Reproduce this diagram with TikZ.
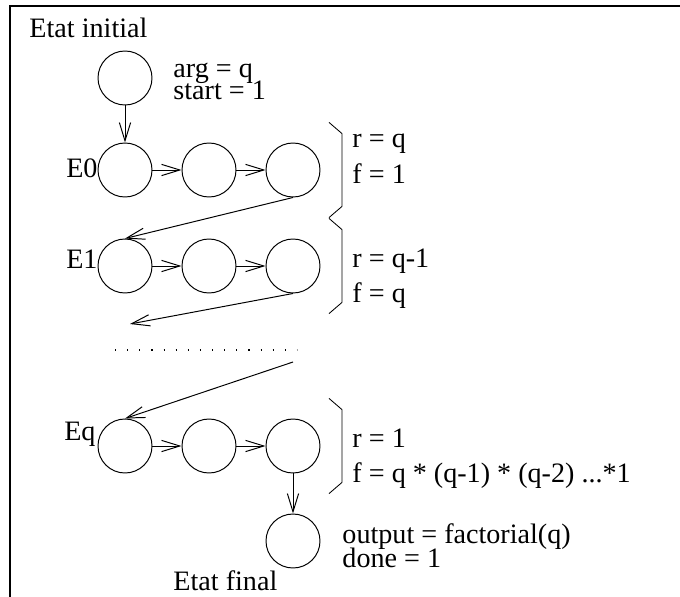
\documentclass[tikz,border=0pt]{standalone}
\usepackage{fontspec}
\setmainfont{Liberation Serif}
\usetikzlibrary{arrows.meta}
\begin{document}
\begin{tikzpicture}[line width=0.7pt,
    st/.style={circle,draw,minimum size=1.35cm,inner sep=0pt},
    arr/.style={-{Straight Barb[length=13pt,width=8pt]}},
    lbl/.style={inner sep=0pt,font=\fontsize{20}{24}\selectfont},
    brk/.style={line width=0.6pt}
  ]
  \useasboundingbox (0,0) rectangle (17,-14.925);
  \draw[line width=1.4pt] (17,-0.15) -- (0.25,-0.15) -- (0.25,-14.925);

  % initial state
  \node[st] (init) at (3.125,-1.95) {};
  \node[lbl,anchor=base west] (tinit) at (0.725,-0.95) {Etat initial};
  \node[lbl,anchor=base west] (targ) at (4.325,-1.95) {arg = q};
  \node[lbl,anchor=base west] (tstart) at (4.325,-2.475) {start = 1};

  % E0 row
  \node[st] (e0a) at (3.125,-4.25) {};
  \node[st] (e0b) at (5.225,-4.25) {};
  \node[st] (e0c) at (7.325,-4.25) {};
  \node[lbl,anchor=base east] (te0) at (2.45,-4.425) {E0};
  \node[lbl,anchor=base west] (tr0) at (8.8,-3.675) {r = q};
  \node[lbl,anchor=base west] (tf0) at (8.8,-4.575) {f = 1};

  % E1 row
  \node[st] (e1a) at (3.125,-6.65) {};
  \node[st] (e1b) at (5.225,-6.65) {};
  \node[st] (e1c) at (7.325,-6.65) {};
  \node[lbl,anchor=base east] (te1) at (2.45,-6.7) {E1};
  \node[lbl,anchor=base west] (tr1) at (8.8,-6.675) {r = q-1};
  \node[lbl,anchor=base west] (tf1) at (8.8,-7.55) {f = q};

  % gap
  \coordinate (gapin) at (3.25,-8.1);
  \coordinate (gapout) at (7.325,-9.05);
  \draw[line width=0.8pt,dash pattern=on 0.8pt off 7.83pt] (2.875,-8.75) -- (7.425,-8.75);

  % Eq row
  \node[st] (eqa) at (3.125,-11.15) {};
  \node[st] (eqb) at (5.225,-11.15) {};
  \node[st] (eqc) at (7.325,-11.15) {};
  \node[lbl,anchor=base east] (teq) at (2.4,-11.0) {Eq};
  \node[lbl,anchor=base west] (trq) at (8.8,-11.175) {r = 1};
  \node[lbl,anchor=base west] (tfq) at (8.8,-12.05) {f = q * (q-1) * (q-2) ...*1};

  % final state
  \node[st] (fin) at (7.325,-13.525) {};
  \node[lbl,anchor=base west] (tout) at (8.55,-13.575) {output = factorial(q)};
  \node[lbl,anchor=base west] (tdone) at (8.55,-14.175) {done = 1};
  \node[lbl,anchor=base west] (tfin) at (4.325,-14.75) {Etat final};

  % brackets
  \foreach \n in {e0c,e1c,eqc}
    \draw[brk] ([shift={(0.9,1.19)}]\n.center) -- ++(0.325,-0.28) -- ++(0,-1.82) -- ++(-0.325,-0.28);

  % transitions
  \draw[arr] (init) -- (e0a);
  \draw[arr] (e0a) -- (e0b); \draw[arr] (e0b) -- (e0c);
  \draw[arr] (e0c.south) -- (e1a.north);
  \draw[arr] (e1a) -- (e1b); \draw[arr] (e1b) -- (e1c);
  \draw[arr] (e1c.south) -- (gapin);
  \draw[arr] (gapout) -- (eqa.north);
  \draw[arr] (eqa) -- (eqb); \draw[arr] (eqb) -- (eqc);
  \draw[arr] (eqc) -- (fin);
\end{tikzpicture}
\end{document}
